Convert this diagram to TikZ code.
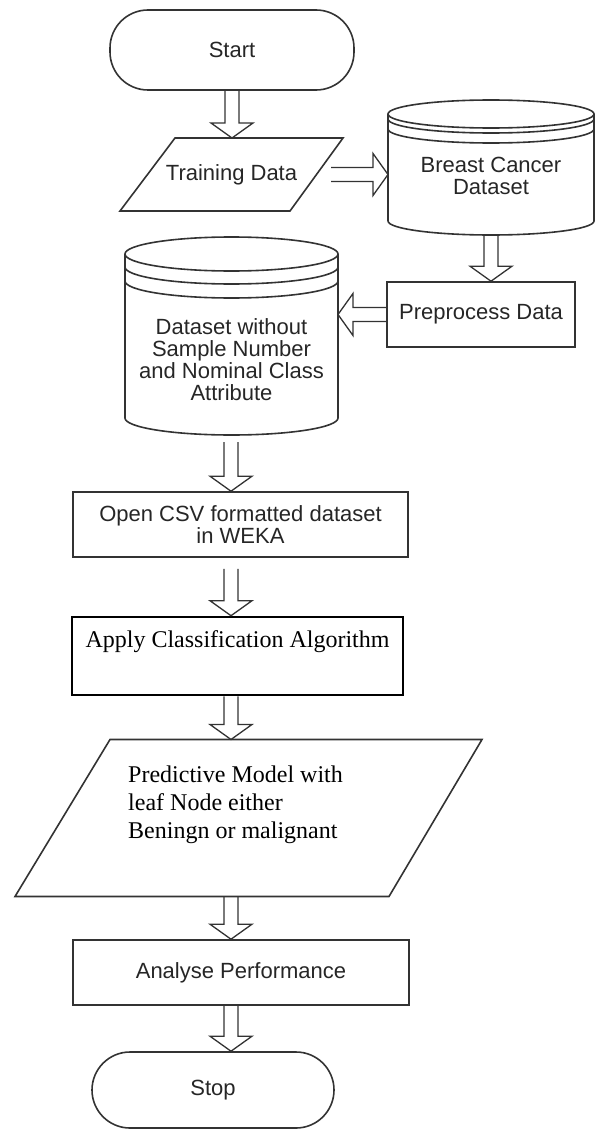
\documentclass[tikz,border=0pt]{standalone}
\usepackage{fontspec}
\setmainfont{Liberation Serif}
\setsansfont{Liberation Sans}
\usetikzlibrary{calc}

\newcommand\flowsans{\sffamily\fontsize{22}{22}\selectfont}
\newcommand\flowserif{\rmfamily\fontsize{24}{28}\selectfont}
% hollow block arrow from #1 to #2
\newcommand\blockarrow[2]{%
  \draw[arrowline] ($(#1)!7pt!-90:(#2)$) -- ($(#2)!15pt!(#1)!7pt!90:(#1)$)
    -- ($(#2)!15pt!(#1)!21pt!90:(#1)$) -- (#2)
    -- ($(#2)!15pt!(#1)!21pt!-90:(#1)$) -- ($(#2)!15pt!(#1)!7pt!-90:(#1)$)
    -- ($(#1)!7pt!90:(#2)$);}

\begin{document}
\begin{tikzpicture}[x=1pt,y=1pt,
  outline/.style={draw=black!80,line width=1.6pt},
  term/.style={outline,rounded corners=38pt,font=\flowsans,text=black!85},
  proc/.style={outline,rectangle,font=\flowsans,text=black!85,align=center},
  frame/.style={rectangle,inner sep=0pt,outer sep=0pt,font=\flowsans,text=black!85,align=center},
  arrowline/.style={draw=black!80,line width=1.3pt,line join=miter}]
\useasboundingbox (0,0) rectangle (594,-1129);
\coordinate (col) at (231,0);
% top part
\node[term,minimum width=244pt,minimum height=80pt] (start) at (232,-50) {Start};
\node[frame,minimum width=223pt,minimum height=73pt] (train) at (231.5,-174.5) {Training Data};
\draw[outline] (train.south west) -- ($(train.north west)+(55,0)$) -- (train.north east) -- ($(train.south east)+(-53,0)$) -- cycle;
\node[frame,minimum width=206pt,minimum height=135pt] (bcd) at (491,-167.5) {};
\draw[outline] ($(bcd.south west)+(0,14)$) -- ($(bcd.north west)+(0,-14)$) arc[start angle=180,end angle=-180,x radius=103,y radius=14];
\draw[outline] ($(bcd.north east)+(0,-14)$) -- ($(bcd.south east)+(0,14)$) arc[start angle=0,end angle=-180,x radius=103,y radius=14];
\draw[outline] ($(bcd.center)+(-103,48.5)$) arc[start angle=180,end angle=360,x radius=103,y radius=14];
\draw[outline] ($(bcd.center)+(-103,38.5)$) arc[start angle=180,end angle=360,x radius=103,y radius=14];
\node[frame] (bcdtext) at (491,-176) {Breast Cancer\\Dataset};
\node[proc,minimum width=188pt,minimum height=65pt] (pre) at (481,-314.5) {Preprocess Data};
\node[frame,minimum width=213pt,minimum height=198pt] (ds) at (231.5,-336) {};
\draw[outline] ($(ds.south west)+(0,17)$) -- ($(ds.north west)+(0,-17)$) arc[start angle=180,end angle=-180,x radius=106.5,y radius=17];
\draw[outline] ($(ds.north east)+(0,-17)$) -- ($(ds.south east)+(0,17)$) arc[start angle=0,end angle=-180,x radius=106.5,y radius=17];
\draw[outline] ($(ds.center)+(-106.5,69)$) arc[start angle=180,end angle=360,x radius=106.5,y radius=17];
\draw[outline] ($(ds.center)+(-106.5,55)$) arc[start angle=180,end angle=360,x radius=106.5,y radius=17];
\node[frame] (dstext) at (231.5,-359.5) {Dataset without\\Sample Number\\and Nominal Class\\Attribute};
% lower part
\node[proc,minimum width=335pt,minimum height=65pt] (csv) at (240.5,-524.5) {Open CSV formatted dataset\\in WEKA};
\node[draw=black,line width=2.6pt,minimum width=331pt,minimum height=78pt,font=\flowserif,text height=22pt,text depth=40pt,inner ysep=8pt] (apply) at (237.5,-656) {Apply Classification Algorithm};
\node[frame,minimum width=467pt,minimum height=157pt] (pred) at (248.5,-818) {};
\draw[outline] (pred.south west) -- ($(pred.north west)+(95,0)$) -- (pred.north east) -- ($(pred.south east)+(-93,0)$) -- cycle;
\node[font=\flowserif,align=left,anchor=north west,inner sep=0pt] (predtext) at (128,-766) {Predictive Model with\\leaf Node either\\Beningn or malignant};
\node[proc,minimum width=336pt,minimum height=65pt] (ana) at (241,-972.5) {Analyse Performance};
\node[term,minimum width=242pt,minimum height=76pt] (stop) at (213,-1090) {Stop};
% arrows
\coordinate (trainout) at ($(train.east)+(-12,0)$);
\coordinate (dsout) at ($(col |- ds.south)+(0,-7)$);
\coordinate (csvout) at ($(col |- csv.south)+(0,-11)$);
\blockarrow{start.south}{start.south |- train.north}
\blockarrow{trainout}{trainout -| bcd.west}
\blockarrow{bcd.south}{bcd.south |- pre.north}
\blockarrow{pre.west}{pre.west -| ds.east}
\blockarrow{dsout}{dsout |- csv.north}
\blockarrow{csvout}{csvout |- apply.north}
\blockarrow{col |- apply.south}{col |- pred.north}
\blockarrow{col |- pred.south}{col |- ana.north}
\blockarrow{col |- ana.south}{col |- stop.north}
\end{tikzpicture}
\end{document}
